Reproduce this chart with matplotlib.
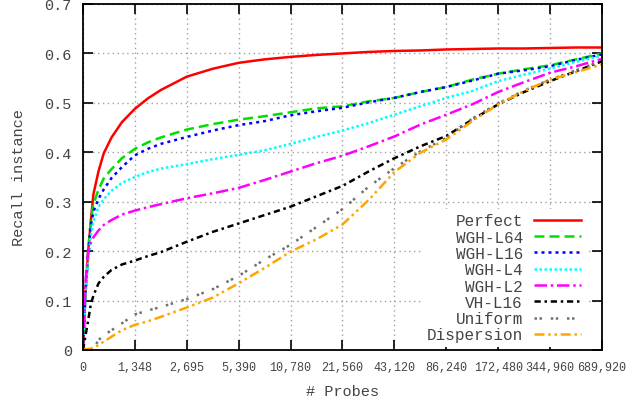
import numpy as np
import matplotlib
matplotlib.use("Agg")
import matplotlib.pyplot as plt

plt.rcParams['font.family'] = ['Liberation Mono', 'DejaVu Sans Mono']

# probe counts at which the curves are read
probes = [0, 67, 135, 202, 270, 404, 539, 741, 1011, 1348, 1603, 1906, 2695,
          3812, 5390, 7623, 10780, 15245, 21560, 30491, 43120, 60982, 86240,
          121965, 172480, 243930, 344960, 487860, 689920]

perfect = [0, 0.12, 0.20, 0.26, 0.315, 0.362, 0.398, 0.430, 0.461, 0.488,
           0.509, 0.526, 0.553, 0.569, 0.581, 0.588, 0.593, 0.597, 0.600,
           0.603, 0.605, 0.606, 0.608, 0.609, 0.610, 0.610, 0.611, 0.612, 0.612]
wgh_l64 = [0, 0.12, 0.20, 0.26, 0.295, 0.325, 0.347, 0.366, 0.388, 0.407,
           0.420, 0.430, 0.446, 0.457, 0.466, 0.473, 0.481, 0.489, 0.493,
           0.503, 0.510, 0.522, 0.532, 0.547, 0.559, 0.568, 0.576, 0.588, 0.600]
wgh_l16 = [0, 0.12, 0.195, 0.25, 0.28, 0.306, 0.325, 0.348, 0.370, 0.394,
           0.407, 0.417, 0.431, 0.444, 0.455, 0.463, 0.475, 0.483, 0.490,
           0.501, 0.510, 0.522, 0.532, 0.545, 0.559, 0.566, 0.574, 0.587, 0.598]
wgh_l4 = [0, 0.11, 0.18, 0.23, 0.26, 0.29, 0.305, 0.322, 0.338, 0.350,
          0.360, 0.367, 0.376, 0.386, 0.395, 0.404, 0.417, 0.431, 0.444,
          0.459, 0.476, 0.493, 0.510, 0.524, 0.544, 0.557, 0.569, 0.583, 0.595]
wgh_l2 = [0, 0.14, 0.20, 0.217, 0.228, 0.242, 0.253, 0.263, 0.274, 0.282,
          0.289, 0.295, 0.307, 0.317, 0.328, 0.344, 0.361, 0.378, 0.393,
          0.412, 0.432, 0.456, 0.476, 0.497, 0.522, 0.542, 0.561, 0.574, 0.589]
vh_l16 = [0, 0.03, 0.06, 0.092, 0.110, 0.135, 0.148, 0.162, 0.173, 0.181,
          0.190, 0.198, 0.219, 0.239, 0.256, 0.273, 0.290, 0.311, 0.332,
          0.361, 0.388, 0.412, 0.433, 0.466, 0.497, 0.522, 0.544, 0.564, 0.584]
uniform = [0, 0, 0, 0, 0.003, 0.020, 0.030, 0.040, 0.054, 0.072, 0.080,
           0.087, 0.103, 0.123, 0.150, 0.183, 0.213, 0.249, 0.285, 0.330,
           0.368, 0.402, 0.429, 0.468, 0.499, 0.525, 0.547, 0.566, 0.585]
dispersion = [0, 0.002, 0.002, 0.003, 0.005, 0.010, 0.017, 0.027, 0.040,
              0.051, 0.058, 0.067, 0.086, 0.106, 0.135, 0.166, 0.199, 0.224,
              0.254, 0.303, 0.360, 0.399, 0.426, 0.463, 0.497, 0.524, 0.547,
              0.562, 0.578]

xticks = [0, 1348, 2695, 5390, 10780, 21560, 43120, 86240, 172480, 344960, 689920]

series = [
    ("Perfect", perfect, "#ff0000", None),
    ("WGH-L64", wgh_l64, "#00e000", (4, 2)),
    ("WGH-L16", wgh_l16, "#0000ff", (1.2, 1.6)),
    ("WGH-L4", wgh_l4, "#00ffff", (1, 1)),
    ("WGH-L2", wgh_l2, "#ff00ff", (5, 1.5, 1, 1.5)),
    ("VH-L16", vh_l16, "#000000", (2.5, 1.5, 1, 1.5)),
    ("Uniform", uniform, "#707070", (1, 1, 1, 3.5)),
    ("Dispersion", dispersion, "#ffa500", (4, 1.5, 1, 1.5, 1, 1.5)),
]


def fwd(p):
    p = np.asarray(p, dtype=float)
    return np.where(p < 1348, p / 1348.0, 1 + np.log2(np.maximum(p, 1348) / 1348.0))


def inv(t):
    t = np.asarray(t, dtype=float)
    return np.where(t < 1, t * 1348.0, 1348.0 * 2 ** (np.minimum(t, 40) - 1))


fig = plt.figure(figsize=(6.44, 4.02), dpi=100)
ax = fig.add_axes([83 / 644, 51 / 402, 519 / 644, 346 / 402])
ax.set_xscale('function', functions=(fwd, inv))

for name, vals, col, dash in series:
    line, = ax.plot(probes, vals, color=col, lw=1.8, label=name)
    if dash is not None:
        line.set_dashes(dash)

ax.set_xlim(0, 689920)
ax.set_ylim(0, 0.7)
ax.set_xticks(xticks)
ax.set_xticklabels(["{:,}".format(v) for v in xticks], fontsize=8.5, color="#444444")
ax.set_yticks(np.arange(0, 0.71, 0.1))
ax.set_yticklabels(["0"] + ["%.1f" % v for v in np.arange(0.1, 0.71, 0.1)],
                   fontsize=11, color="#444444")
ax.minorticks_off()
ax.tick_params(direction='in', length=7, width=1.2, top=True, right=True, pad=8)
ax.grid(True, color="#a0a0a0", linestyle=(0, (1, 2.5)), lw=1)
for s in ax.spines.values():
    s.set_linewidth(1.3)

ax.set_xlabel("# Probes", fontsize=11, color="#444444", labelpad=8)
ax.set_ylabel("Recall instance", fontsize=11, color="#444444", labelpad=13)

leg = ax.legend(loc='lower right', bbox_to_anchor=(0.985, -0.015), fontsize=11.5,
                markerfirst=False, handlelength=2.95, handletextpad=0.7,
                labelspacing=0.08, frameon=True, fancybox=False, framealpha=1,
                borderpad=0.3)
leg.get_frame().set_edgecolor('none')
leg.get_frame().set_facecolor('white')
for t in leg.get_texts():
    t.set_color("#444444")

fig.savefig("out.png", dpi=100)
